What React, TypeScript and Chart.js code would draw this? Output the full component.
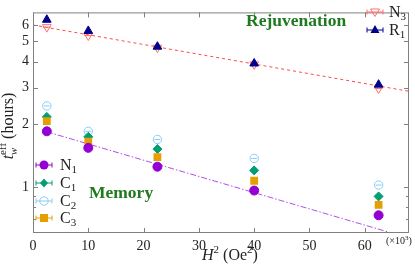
import React, { useEffect, useRef } from 'react';
import { Chart, registerables } from 'chart.js';
Chart.register(...registerables);

// H^2 in units of 10^3 Oe^2
const xH2 = [2.5, 10, 22.5, 40, 62.5];
const n3 = [5.86, 5.34, 4.67, 3.88, 2.97];
const r1 = [6.36, 5.62, 4.72, 3.92, 3.1];
const n1 = [1.85, 1.54, 1.25, 0.96, 0.73];
const c1 = [2.17, 1.74, 1.52, 1.2, 0.9];
const c2 = [2.45, 1.85, 1.69, 1.37, 1.02];
const c3 = [2.07, 1.65, 1.39, 1.07, 0.82];
const rejFitX = [0, 68];
const rejFitY = [6.0, 2.88];
const memFitX = [2.5, 68];
const memFitY = [1.84, 0.567];
const xTicks = [0, 10, 20, 30, 40, 50, 60];
const yMajorTicks = [1, 2, 3, 4, 5, 6];
const yMinorTicks = [0.7, 0.8, 0.9];

const SERIF = "'Liberation Serif', 'DejaVu Serif', serif";
const COL = {
  n3: '#ff6f6f',
  r1: '#00008b',
  n1: '#9400d3',
  c1: '#009e73',
  c2: '#86cdf5',
  c3: '#e69f00',
  rejLine: '#ff4a4a',
  memLine: '#b150e8',
  green: '#1f7a1f',
  frame: '#808080',
};

const pts = (xs: number[], ys: number[]) => xs.map((x, i) => ({ x, y: ys[i] }));

type Mk = 'circle' | 'diamond' | 'ocircle' | 'square' | 'tri' | 'otri';

function drawMarker(ctx: CanvasRenderingContext2D, mk: Mk, x: number, y: number, color: string) {
  ctx.save();
  ctx.strokeStyle = color;
  ctx.lineWidth = 1;
  ctx.beginPath();
  ctx.moveTo(x - 8, y); ctx.lineTo(x + 8, y);
  ctx.moveTo(x - 8, y - 2.5); ctx.lineTo(x - 8, y + 2.5);
  ctx.moveTo(x + 8, y - 2.5); ctx.lineTo(x + 8, y + 2.5);
  ctx.stroke();
  ctx.fillStyle = color;
  ctx.beginPath();
  if (mk === 'circle') { ctx.arc(x, y, 4.5, 0, Math.PI * 2); ctx.fill(); }
  else if (mk === 'ocircle') { ctx.arc(x, y, 4.2, 0, Math.PI * 2); ctx.stroke(); }
  else if (mk === 'diamond') { ctx.moveTo(x, y - 4.5); ctx.lineTo(x + 4, y); ctx.lineTo(x, y + 4.5); ctx.lineTo(x - 4, y); ctx.closePath(); ctx.fill(); }
  else if (mk === 'square') { ctx.rect(x - 4, y - 4, 8, 8); ctx.fill(); }
  else if (mk === 'tri') { ctx.moveTo(x, y - 5); ctx.lineTo(x + 4.5, y + 3); ctx.lineTo(x - 4.5, y + 3); ctx.closePath(); ctx.fill(); }
  else if (mk === 'otri') { ctx.moveTo(x, y + 4.5); ctx.lineTo(x + 4.5, y - 3); ctx.lineTo(x - 4.5, y - 3); ctx.closePath(); ctx.stroke(); }
  ctx.restore();
}

function drawSub(ctx: CanvasRenderingContext2D, main: string, sub: string, x: number, y: number) {
  ctx.font = `16px ${SERIF}`;
  ctx.textBaseline = 'alphabetic';
  ctx.textAlign = 'left';
  ctx.fillText(main, x, y);
  const w = ctx.measureText(main).width;
  ctx.font = `11px ${SERIF}`;
  ctx.fillText(sub, x + w, y + 3);
}

const overlay = {
  id: 'overlay',
  afterDraw(chart: any) {
    const { ctx, chartArea: a, scales } = chart;
    const xs = scales.x, ys = scales.y;
    ctx.save();
    ctx.strokeStyle = COL.frame;
    ctx.lineWidth = 1;
    ctx.strokeRect(a.left + 0.5, a.top + 0.5, a.right - a.left - 1, a.bottom - a.top - 1);
    ctx.beginPath();
    for (const v of xTicks) {
      const px = Math.round(xs.getPixelForValue(v)) + 0.5;
      ctx.moveTo(px, a.bottom); ctx.lineTo(px, a.bottom - 5);
      ctx.moveTo(px, a.top); ctx.lineTo(px, a.top + 5);
    }
    for (const v of yMajorTicks) {
      const py = Math.round(ys.getPixelForValue(v)) + 0.5;
      ctx.moveTo(a.left, py); ctx.lineTo(a.left + 5, py);
      ctx.moveTo(a.right, py); ctx.lineTo(a.right - 5, py);
    }
    for (const v of yMinorTicks) {
      const py = Math.round(ys.getPixelForValue(v)) + 0.5;
      ctx.moveTo(a.left, py); ctx.lineTo(a.left + 3, py);
      ctx.moveTo(a.right, py); ctx.lineTo(a.right - 3, py);
    }
    ctx.stroke();

    ctx.fillStyle = COL.green;
    ctx.font = `bold 17.5px ${SERIF}`;
    ctx.textBaseline = 'middle';
    ctx.textAlign = 'left';
    ctx.fillText('Rejuvenation', 246, 21);
    ctx.fillText('Memory', 89, 193);

    ctx.fillStyle = '#222';
    drawMarker(ctx, 'otri', 375, 12, COL.n3);
    drawSub(ctx, 'N', '3', 389, 17);
    drawMarker(ctx, 'tri', 375, 30, COL.r1);
    ctx.fillStyle = '#222';
    drawSub(ctx, 'R', '1', 389, 35);

    const leg: [Mk, string, string, number][] = [
      ['circle', COL.n1, '1', 165],
      ['diamond', COL.c1, '1', 183],
      ['ocircle', COL.c2, '2', 201],
      ['square', COL.c3, '3', 218],
    ];
    leg.forEach(([mk, col, sub, yy], i) => {
      drawMarker(ctx, mk, 44, yy, col);
      ctx.fillStyle = '#222';
      drawSub(ctx, i === 0 ? 'N' : 'C', sub, 60, yy + 5);
    });

    ctx.fillStyle = '#222';
    ctx.textBaseline = 'alphabetic';
    ctx.textAlign = 'left';
    {
      const parts: [string, string, number][] = [
        ['H', `italic 16px ${SERIF}`, 0],
        ['2', `11px ${SERIF}`, -7],
        [' (Oe', `16px ${SERIF}`, 0],
        ['2', `11px ${SERIF}`, -7],
        [')', `16px ${SERIF}`, 0],
      ];
      let total = 0;
      for (const [t, f] of parts) { ctx.font = f; total += ctx.measureText(t).width; }
      let x0 = 230 - total / 2;
      for (const [t, f, dy] of parts) { ctx.font = f; ctx.fillText(t, x0, 260 + dy); x0 += ctx.measureText(t).width; }
    }
    {
      ctx.save();
      ctx.translate(13, 126);
      ctx.rotate(-Math.PI / 2);
      ctx.font = `italic 16px ${SERIF}`;
      const wt = ctx.measureText('t').width;
      ctx.font = `11px ${SERIF}`;
      const we = ctx.measureText('eff').width;
      ctx.font = `16px ${SERIF}`;
      const wh = ctx.measureText(' (hours)').width;
      const total = wt + we + wh;
      let x0 = -total / 2;
      ctx.font = `italic 16px ${SERIF}`;
      ctx.fillText('t', x0, 0);
      x0 += wt;
      ctx.font = `italic 11px ${SERIF}`;
      ctx.fillText('w', x0, 4);
      ctx.font = `11px ${SERIF}`;
      ctx.fillText('eff', x0, -7);
      x0 += we;
      ctx.font = `16px ${SERIF}`;
      ctx.fillText(' (hours)', x0, 0);
      ctx.restore();
    }
    ctx.font = `10px ${SERIF}`;
    ctx.textBaseline = 'alphabetic';
    ctx.fillText('(\u00d710', 386, 244);
    const wm = ctx.measureText('(\u00d710').width;
    ctx.font = `7px ${SERIF}`;
    ctx.fillText('3', 386 + wm, 240);
    const w3 = ctx.measureText('3').width;
    ctx.font = `10px ${SERIF}`;
    ctx.fillText(')', 386 + wm + w3, 244);
    ctx.restore();
  },
};

export default function App() {
  const ref = useRef<HTMLCanvasElement>(null);
  useEffect(() => {
    document.body.style.margin = '0';
    const chart = new Chart(ref.current!, {
      type: 'scatter',
      data: {
        datasets: [
          { label: 'rejfit', data: pts(rejFitX, rejFitY), showLine: true, pointRadius: 0, borderColor: COL.rejLine, borderWidth: 1, borderDash: [3, 3], order: 20 },
          { label: 'memfit', data: pts(memFitX, memFitY), showLine: true, pointRadius: 0, borderColor: COL.memLine, borderWidth: 1, borderDash: [6, 2, 1.5, 2], order: 20 },
          { label: 'N3', data: pts(xH2, n3), pointStyle: 'triangle', rotation: 180, pointRadius: 5, backgroundColor: 'rgba(0,0,0,0)', borderColor: COL.n3, borderWidth: 1, order: 6 },
          { label: 'N3bar', data: pts(xH2, n3), pointStyle: 'line', pointRadius: 4, borderColor: COL.n3, borderWidth: 1, order: 5 },
          { label: 'R1', data: pts(xH2, r1), pointStyle: 'triangle', pointRadius: 5, backgroundColor: COL.r1, borderColor: COL.r1, borderWidth: 1, order: 4 },
          { label: 'C2', data: pts(xH2, c2), pointStyle: 'circle', pointRadius: 4.2, backgroundColor: 'rgba(0,0,0,0)', borderColor: COL.c2, borderWidth: 1, order: 3 },
          { label: 'C2bar', data: pts(xH2, c2), pointStyle: 'line', pointRadius: 3, borderColor: COL.c2, borderWidth: 1, order: 3 },
          { label: 'C1', data: pts(xH2, c1), pointStyle: 'rectRot', pointRadius: 4.5, backgroundColor: COL.c1, borderColor: COL.c1, borderWidth: 1, order: 2 },
          { label: 'C3', data: pts(xH2, c3), pointStyle: 'rect', pointRadius: 5.5, backgroundColor: COL.c3, borderColor: COL.c3, borderWidth: 0, order: 1 },
          { label: 'N1', data: pts(xH2, n1), pointStyle: 'circle', pointRadius: 4.5, backgroundColor: COL.n1, borderColor: COL.n1, borderWidth: 1, order: 0 },
        ],
      },
      options: {
        animation: false,
        responsive: false,
        layout: { padding: 0 },
        plugins: { legend: { display: false }, tooltip: { enabled: false } },
        scales: {
          x: {
            type: 'linear',
            min: 0,
            max: 68,
            grid: { display: false, drawTicks: false },
            border: { display: false },
            afterFit: (s: any) => { s.height = 33; },
            afterBuildTicks: (s: any) => { s.ticks = xTicks.map((v) => ({ value: v })); },
            ticks: { font: { family: SERIF, size: 14 }, color: '#222', padding: 5, autoSkip: false, maxRotation: 0, callback: (v: any) => String(v) },
          },
          y: {
            type: 'logarithmic',
            min: 0.622,
            max: 6.9,
            grid: { display: false, drawTicks: false },
            border: { display: false },
            afterFit: (s: any) => { s.width = 33; },
            afterBuildTicks: (s: any) => { s.ticks = [...yMinorTicks, ...yMajorTicks].map((v) => ({ value: v })); },
            ticks: { font: { family: SERIF, size: 14 }, color: '#222', padding: 4, autoSkip: false, callback: (v: any) => (yMajorTicks.includes(Number(v)) ? String(v) : '') },
          },
        },
      },
      plugins: [overlay],
    } as any);
    return () => chart.destroy();
  }, []);
  return (
    <div style={{ width: 415, height: 266 }}>
      <canvas ref={ref} width={415} height={266} style={{ display: 'block' }} />
    </div>
  );
}
